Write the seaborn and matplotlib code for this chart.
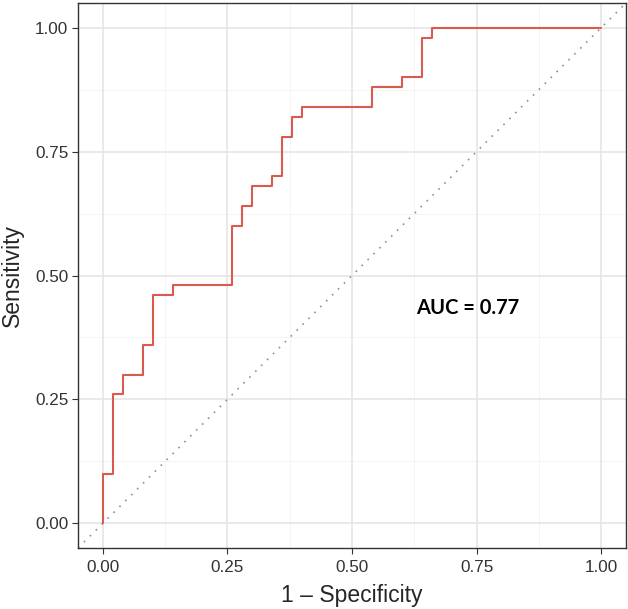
import pandas as pd
import matplotlib.pyplot as plt
import seaborn as sns

# ROC curve points (1 - specificity, sensitivity), step corners
fpr = [0.00, 0.00, 0.02, 0.04, 0.08, 0.10, 0.14, 0.26, 0.28, 0.30, 0.34,
       0.36, 0.38, 0.40, 0.54, 0.60, 0.64, 0.66, 1.00]
tpr = [0.00, 0.10, 0.26, 0.30, 0.36, 0.46, 0.48, 0.60, 0.64, 0.68, 0.70,
       0.78, 0.82, 0.84, 0.88, 0.90, 0.98, 1.00, 1.00]
auc_label = "AUC = 0.77"
ticks = [0.00, 0.25, 0.50, 0.75, 1.00]
tick_labels = ["0.00", "0.25", "0.50", "0.75", "1.00"]


def plot():
    sns.set_theme(style="white")
    plt.rcParams['font.family'] = ['Liberation Sans', 'DejaVu Sans']

    df = pd.DataFrame({'fpr': fpr, 'tpr': tpr})

    fig = plt.figure(figsize=(6.28, 6.09), dpi=100)
    ax = fig.add_axes([78 / 628, 1 - 548 / 609, (626 - 78) / 628, (548 - 3) / 609])

    # grid like theme_bw
    for v in [0.125, 0.375, 0.625, 0.875]:
        ax.axvline(v, color='#f2f2f2', lw=0.6, zorder=0)
        ax.axhline(v, color='#f2f2f2', lw=0.6, zorder=0)
    for v in ticks:
        ax.axvline(v, color='#e5e5e5', lw=1.2, zorder=0)
        ax.axhline(v, color='#e5e5e5', lw=1.2, zorder=0)

    ax.axline((0, 0), (1, 1), color='#909090', lw=1.2, linestyle=(0, (1, 4)), zorder=1)

    sns.lineplot(data=df, x='fpr', y='tpr', sort=False, estimator=None,
                 drawstyle='steps-post', color='#DB5A50', lw=1.5, ax=ax, zorder=2)

    ax.text(0.733, 0.435, auc_label, ha='center', va='center', fontsize=14.5,
            fontweight='bold', family=['Lato', 'DejaVu Sans'], color='black')

    ax.set_xlim(-0.05, 1.05)
    ax.set_ylim(-0.05, 1.05)
    ax.set_xticks(ticks)
    ax.set_xticklabels(tick_labels)
    ax.set_yticks(ticks)
    ax.set_yticklabels(tick_labels)
    ax.tick_params(axis='both', which='major', direction='out', length=4, width=0.8,
                   color='#333333', labelsize=12.3, labelcolor='#333333', pad=3,
                   bottom=True, left=True)
    ax.tick_params(axis='x', pad=5)
    ax.set_xlabel('1 \u2013 Specificity', fontsize=16.5, labelpad=6)
    ax.set_ylabel('Sensitivity', fontsize=16.5, labelpad=8)
    for s in ax.spines.values():
        s.set_color('#333333')
        s.set_linewidth(1.0)

    fig.savefig('out.png', dpi=100)


if __name__ == "__main__":
    plot()
